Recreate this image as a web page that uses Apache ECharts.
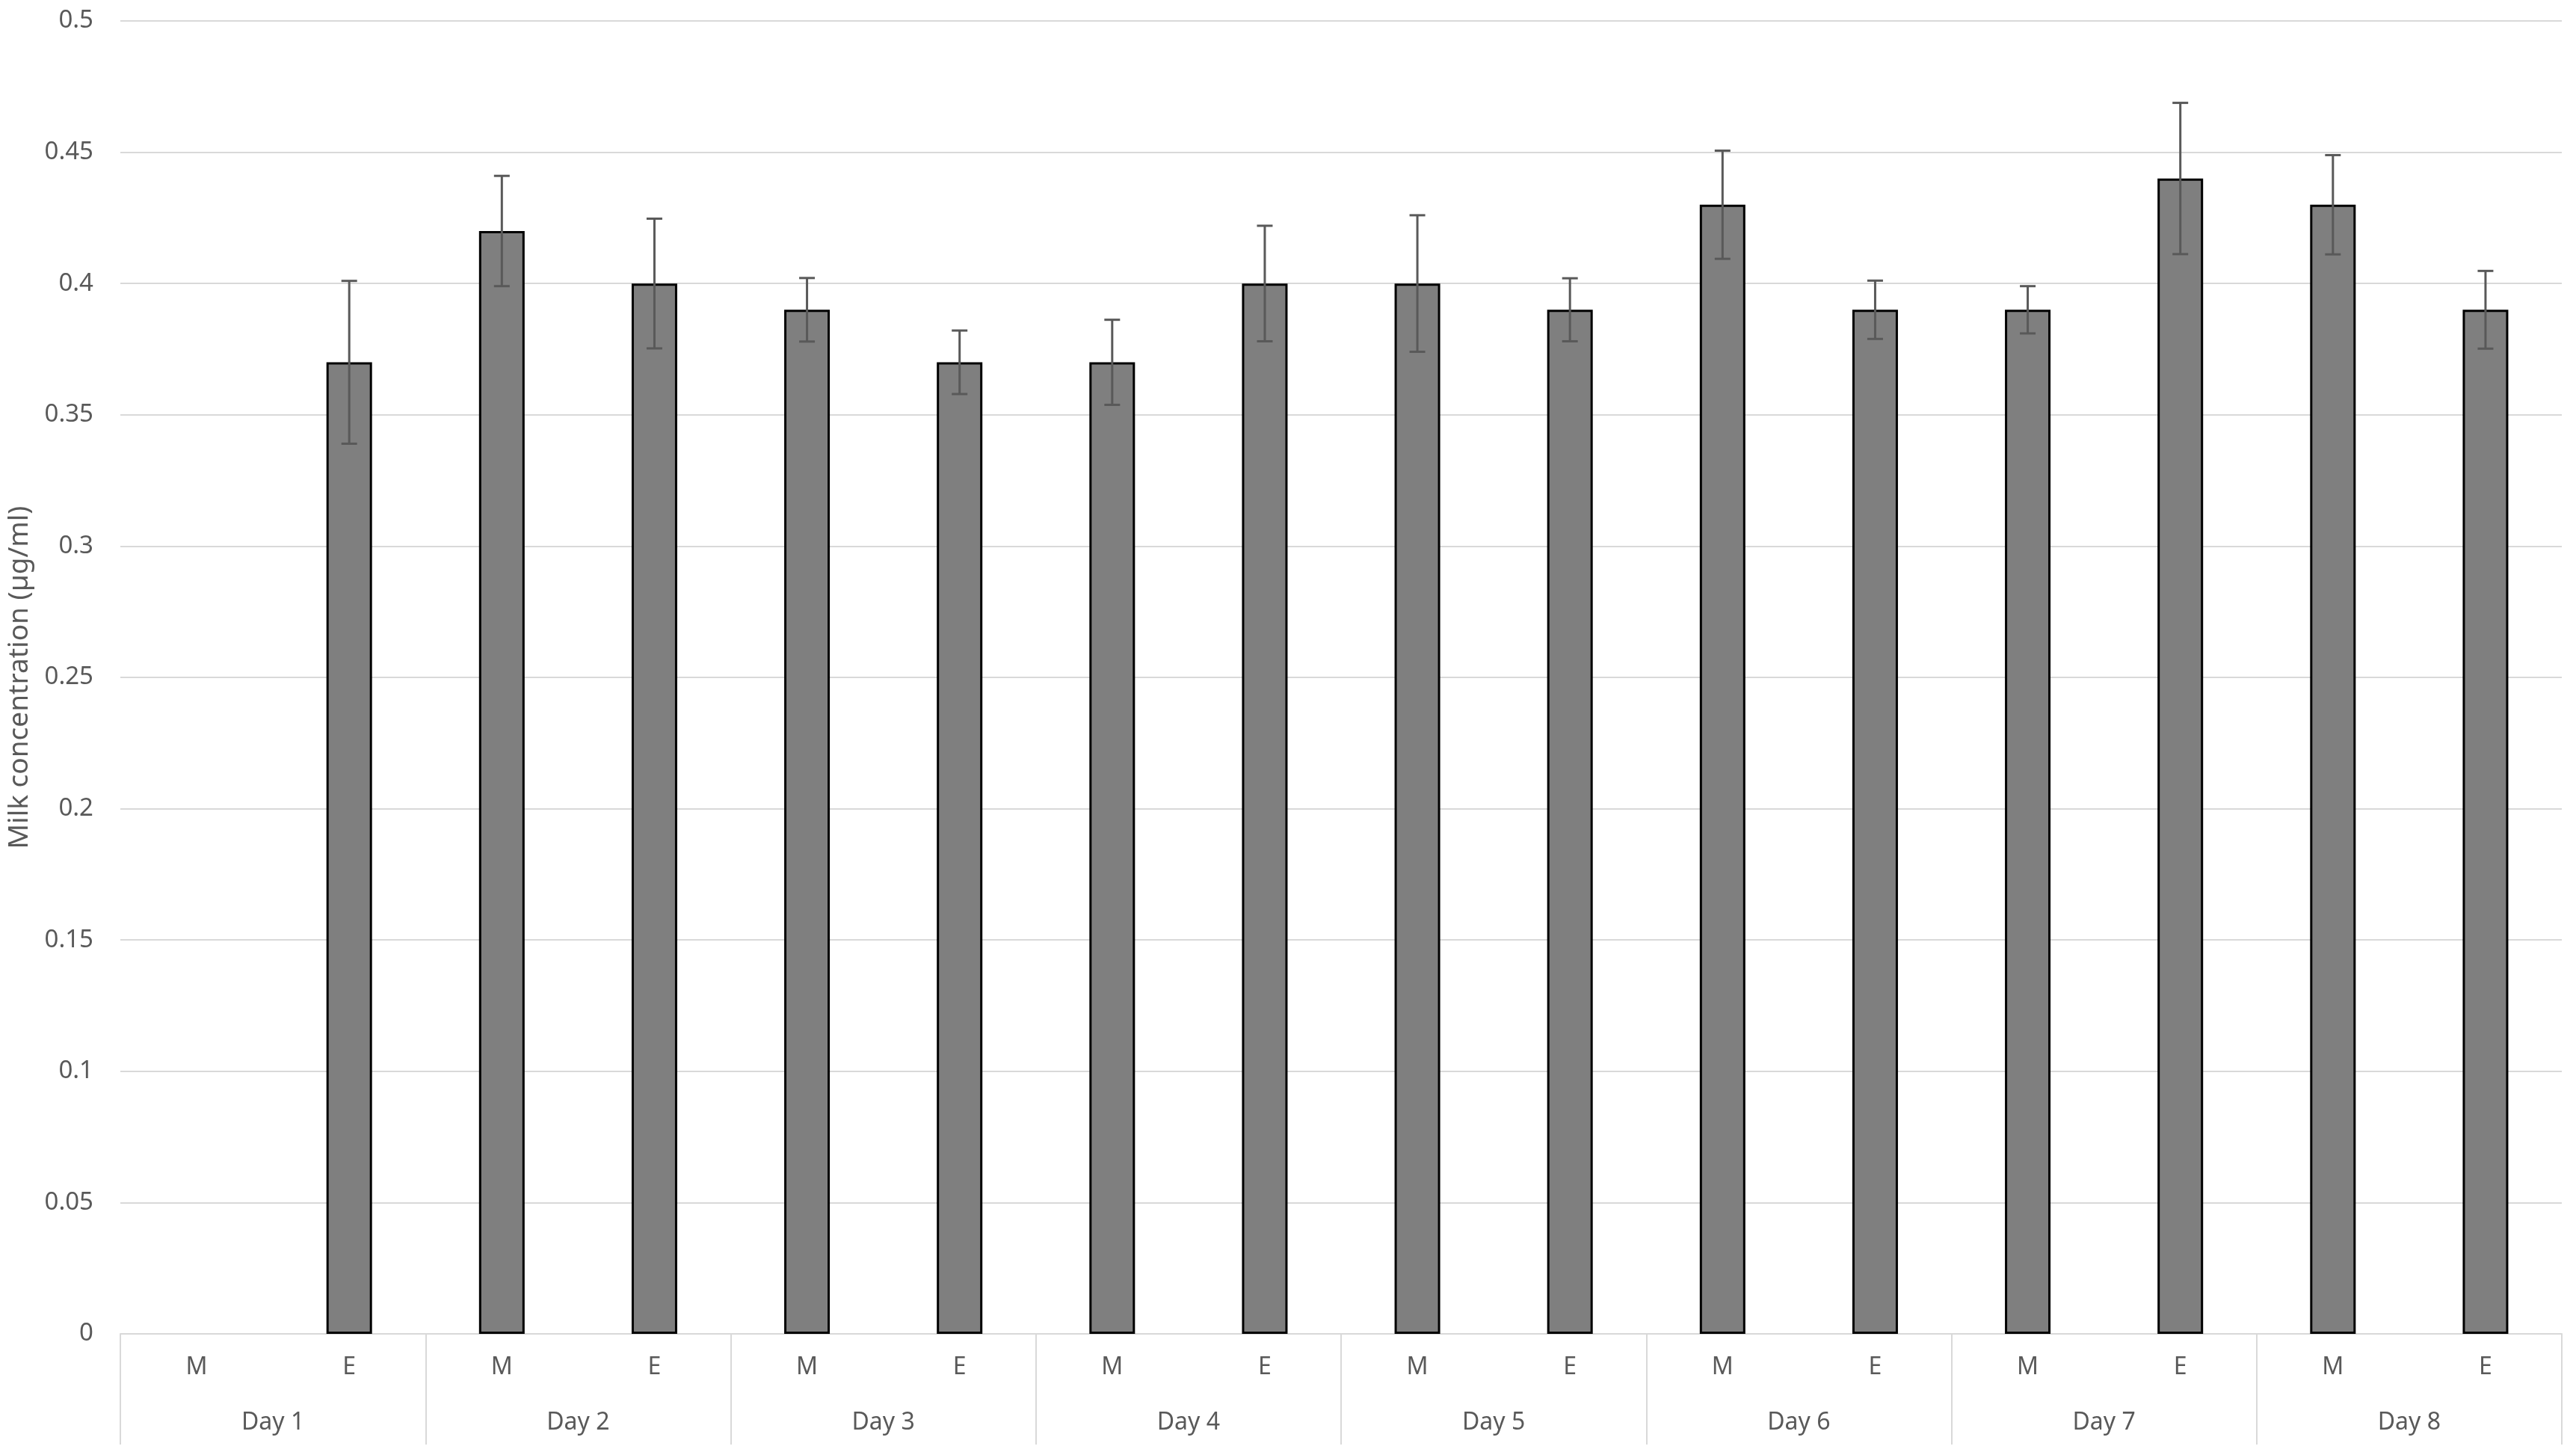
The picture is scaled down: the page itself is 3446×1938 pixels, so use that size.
<!DOCTYPE html>
<html>
<head>
<meta charset="utf-8">
<script src="https://cdn.jsdelivr.net/npm/echarts@6/dist/echarts.min.js"></script>
<style>
  html, body { margin: 0; padding: 0; background: #fff; }
  #main { width: 3446px; height: 1938px; }
</style>
</head>
<body>
<div id="main"></div>
<script>
// milking slots (M = morning, E = evening), two per day
var slots = ['M', 'E', 'M', 'E', 'M', 'E', 'M', 'E', 'M', 'E', 'M', 'E', 'M', 'E', 'M', 'E'];
var days = ['Day 1', 'Day 2', 'Day 3', 'Day 4', 'Day 5', 'Day 6', 'Day 7', 'Day 8'];
// mean concentration, µg/ml (Day 1 morning has no sample)
var means = [null, 0.37, 0.42, 0.40, 0.39, 0.37, 0.37, 0.40, 0.40, 0.39, 0.43, 0.39, 0.39, 0.44, 0.43, 0.39];
// error bar half-lengths
var errors = [null, 0.031, 0.021, 0.0247, 0.0121, 0.0121, 0.0162, 0.022, 0.026, 0.012, 0.0206, 0.0111, 0.009, 0.0288, 0.0189, 0.0148];

var textColor = '#595959';
var lineColor = '#d9d9d9';
var font = 'Noto Sans';

var barData = means.map(function (v) { return v == null ? '-' : v; });
var errData = [];
means.forEach(function (v, i) {
  if (v != null) errData.push([i, v, errors[i]]);
});

var chart = echarts.init(document.getElementById('main'));
chart.setOption({
  animation: false,
  backgroundColor: '#fff',
  grid: { left: 157, right: 19, top: 28, bottom: 154 },
  xAxis: [
    {
      type: 'category',
      data: slots,
      axisLine: { show: true, lineStyle: { color: lineColor, width: 2 } },
      axisTick: { show: false },
      axisLabel: { color: textColor, fontSize: 32, fontFamily: font, margin: 29, interval: 0 }
    },
    {
      type: 'category',
      data: days,
      position: 'bottom',
      axisLine: { show: false },
      axisTick: { show: true, length: 148, interval: 0, lineStyle: { color: lineColor, width: 2 } },
      axisLabel: { color: textColor, fontSize: 32, fontFamily: font, margin: 103, interval: 0 }
    }
  ],
  yAxis: {
    type: 'value',
    min: 0,
    max: 0.5,
    interval: 0.05,
    name: 'Milk concentration (µg/ml)',
    nameLocation: 'middle',
    nameRotate: 90,
    nameGap: 116,
    nameTextStyle: { color: textColor, fontSize: 37, fontFamily: font },
    axisLine: { show: false },
    axisTick: { show: false },
    axisLabel: { color: textColor, fontSize: 33, fontFamily: font, margin: 36 },
    splitLine: { lineStyle: { color: lineColor, width: 2 } }
  },
  series: [
    {
      type: 'bar',
      data: barData,
      barWidth: 61,
      itemStyle: { color: '#7f7f7f', borderColor: '#000', borderWidth: 3 }
    },
    {
      type: 'custom',
      data: errData,
      z: 5,
      renderItem: function (params, api) {
        var x = api.value(0);
        var hi = api.coord([x, api.value(1) + api.value(2)]);
        var lo = api.coord([x, api.value(1) - api.value(2)]);
        var cap = 10.5;
        var st = { stroke: '#595959', lineWidth: 3 };
        return {
          type: 'group',
          children: [
            { type: 'line', shape: { x1: hi[0], y1: hi[1], x2: lo[0], y2: lo[1] }, style: st },
            { type: 'line', shape: { x1: hi[0] - cap, y1: hi[1], x2: hi[0] + cap, y2: hi[1] }, style: st },
            { type: 'line', shape: { x1: lo[0] - cap, y1: lo[1], x2: lo[0] + cap, y2: lo[1] }, style: st }
          ]
        };
      }
    }
  ]
});
</script>
</body>
</html>
